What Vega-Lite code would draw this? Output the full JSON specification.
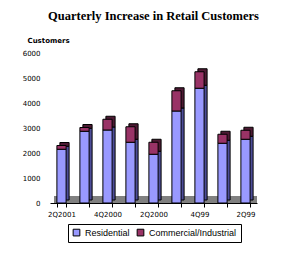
{
  "$schema": "https://vega.github.io/schema/vega-lite/v6.json",
  "width": 207,
  "height": 150,
  "autosize": "none",
  "padding": {"left": 50, "top": 53, "right": 48, "bottom": 69},
  "background": "white",
  "title": {"text": "Quarterly Increase in Retail Customers", "font": "Liberation Serif", "fontSize": 12.5, "fontWeight": "bold", "color": "black", "anchor": "middle", "offset": 14},
  "data": {"values": [
    {"quarter": "2Q2001", "type": "Residential", "value": 2150},
    {"quarter": "2Q2001", "type": "Commercial/Industrial", "value": 150},
    {"quarter": "1Q2001", "type": "Residential", "value": 2870},
    {"quarter": "1Q2001", "type": "Commercial/Industrial", "value": 150},
    {"quarter": "4Q2000", "type": "Residential", "value": 2920},
    {"quarter": "4Q2000", "type": "Commercial/Industrial", "value": 430},
    {"quarter": "3Q2000", "type": "Residential", "value": 2430},
    {"quarter": "3Q2000", "type": "Commercial/Industrial", "value": 620},
    {"quarter": "2Q2000", "type": "Residential", "value": 1950},
    {"quarter": "2Q2000", "type": "Commercial/Industrial", "value": 480},
    {"quarter": "1Q2000", "type": "Residential", "value": 3680},
    {"quarter": "1Q2000", "type": "Commercial/Industrial", "value": 810},
    {"quarter": "4Q99", "type": "Residential", "value": 4590},
    {"quarter": "4Q99", "type": "Commercial/Industrial", "value": 660},
    {"quarter": "3Q99", "type": "Residential", "value": 2390},
    {"quarter": "3Q99", "type": "Commercial/Industrial", "value": 360},
    {"quarter": "2Q99", "type": "Residential", "value": 2550},
    {"quarter": "2Q99", "type": "Commercial/Industrial", "value": 360}
  ]},
  "layer": [
    {
      "transform": [{"filter": "datum.quarter == '2Q2001' && datum.type == 'Residential'"}],
      "mark": {"type": "rect", "color": "#808080", "xOffset": 4},
      "encoding": {
        "x": {"value": 0},
        "x2": {"value": "width"},
        "y": {"datum": 0, "type": "quantitative", "scale": {"domain": [0, 6000], "nice": false},
          "axis": {"values": [0, 1000, 2000, 3000, 4000, 5000, 6000], "format": "d", "grid": false, "domain": false, "ticks": false, "labelFont": "DejaVu Sans", "labelFontSize": 7, "labelColor": "black", "labelPadding": 10, "labelOverlap": false,
            "title": "Customers", "titleAngle": 0, "titleAlign": "left", "titleBaseline": "bottom", "titleX": -23, "titleY": -10, "titleFont": "DejaVu Sans", "titleFontSize": 7, "titleFontWeight": "bold", "titleColor": "black"}},
        "y2": {"datum": 280}
      }
    },
    {
      "mark": {"type": "bar", "xOffset": 3, "yOffset": -3, "stroke": "black", "strokeWidth": 1},
      "encoding": {
        "x": {"field": "quarter", "type": "nominal", "sort": null, "scale": {"paddingInner": 0.6, "paddingOuter": 0.3},
          "axis": {"title": null, "labelAngle": 0, "labelFont": "DejaVu Sans", "labelFontSize": 7, "labelColor": "black", "domainColor": "black", "tickColor": "black", "tickBand": "extent", "tickSize": 4, "labelPadding": 3, "labelOverlap": false,
            "labelExpr": "indexof(['2Q2001','4Q2000','2Q2000','4Q99','2Q99'], datum.value) >= 0 ? datum.value : ''"}},
        "y": {"field": "value", "type": "quantitative", "stack": "zero",
          "axis": {"values": [0, 1000, 2000, 3000, 4000, 5000, 6000], "format": "d", "grid": false, "domain": false, "ticks": false, "labelFont": "DejaVu Sans", "labelFontSize": 7, "labelColor": "black", "labelPadding": 10, "labelOverlap": false,
            "title": "Customers", "titleAngle": 0, "titleAlign": "left", "titleBaseline": "bottom", "titleX": -23, "titleY": -10, "titleFont": "DejaVu Sans", "titleFontSize": 7, "titleFontWeight": "bold", "titleColor": "black"}},
        "order": {"field": "type", "sort": "descending"},
        "color": {"field": "type", "type": "nominal", "scale": {"domain": ["Residential", "Commercial/Industrial"], "range": ["#4d4d99", "#4d1a33"]}, "legend": null}
      }
    },
    {
      "mark": {"type": "bar", "stroke": "black", "strokeWidth": 1},
      "encoding": {
        "x": {"field": "quarter", "type": "nominal", "sort": null,
          "axis": {"title": null, "labelAngle": 0, "labelFont": "DejaVu Sans", "labelFontSize": 7, "labelColor": "black", "domainColor": "black", "tickColor": "black", "tickBand": "extent", "tickSize": 4, "labelPadding": 3, "labelOverlap": false,
            "labelExpr": "indexof(['2Q2001','4Q2000','2Q2000','4Q99','2Q99'], datum.value) >= 0 ? datum.value : ''"}},
        "y": {"field": "value", "type": "quantitative", "stack": "zero",
          "axis": {"values": [0, 1000, 2000, 3000, 4000, 5000, 6000], "format": "d", "grid": false, "domain": false, "ticks": false, "labelFont": "DejaVu Sans", "labelFontSize": 7, "labelColor": "black", "labelPadding": 10, "labelOverlap": false,
            "title": "Customers", "titleAngle": 0, "titleAlign": "left", "titleBaseline": "bottom", "titleX": -23, "titleY": -10, "titleFont": "DejaVu Sans", "titleFontSize": 7, "titleFontWeight": "bold", "titleColor": "black"}},
        "order": {"field": "type", "sort": "descending"},
        "fill": {"field": "type", "type": "nominal", "scale": {"domain": ["Residential", "Commercial/Industrial"], "range": ["#9999ff", "#993366"]},
          "legend": {"title": null, "orient": "none", "legendX": 18, "legendY": 171, "direction": "horizontal", "symbolType": "square", "symbolSize": 45, "symbolStrokeColor": "black", "symbolStrokeWidth": 1, "labelFont": "Liberation Sans", "labelFontSize": 9, "labelColor": "black", "strokeColor": "black", "padding": 4, "columnPadding": 5, "symbolOffset": 0}}
      }
    }
  ],
  "resolve": {"legend": {"color": "independent", "fill": "independent"}, "scale": {"color": "independent", "fill": "independent"}},
  "config": {"view": {"stroke": null}}
}
